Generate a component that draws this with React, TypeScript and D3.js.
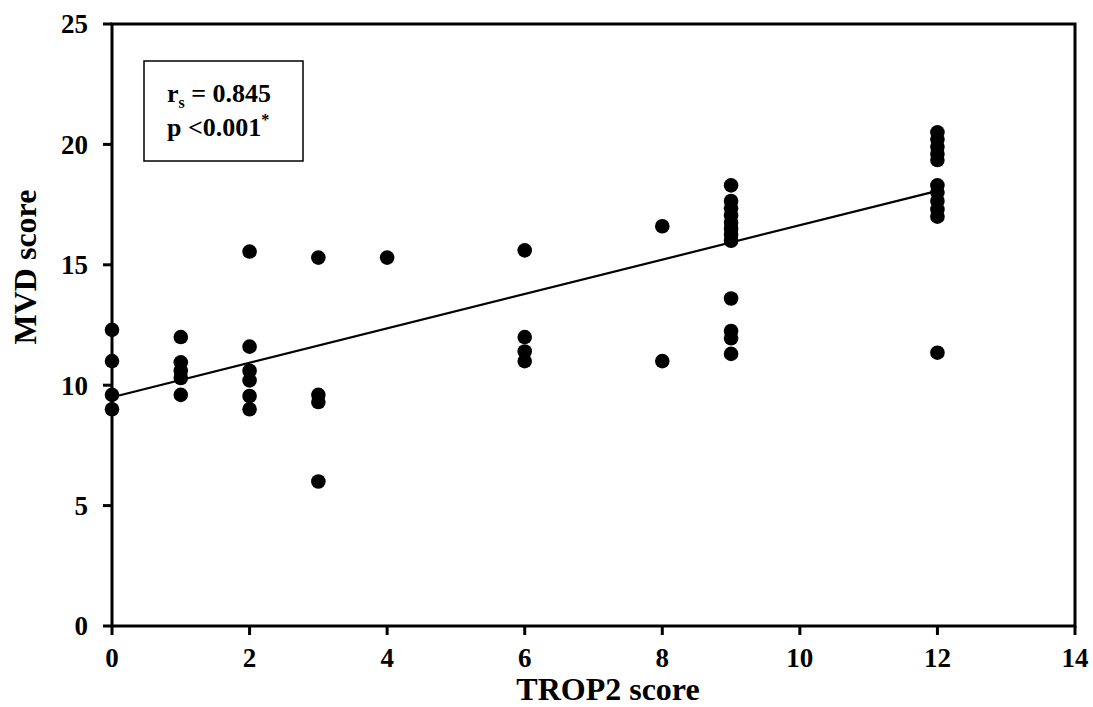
import React from "react";
import * as d3 from "d3";

const trop2Scores = [
  0, 0, 0, 0,
  1, 1, 1, 1, 1,
  2, 2, 2, 2, 2, 2,
  3, 3, 3, 3,
  4,
  6, 6, 6, 6,
  8, 8,
  9, 9, 9, 9, 9, 9, 9, 9, 9, 9, 9, 9,
  12, 12, 12, 12, 12, 12, 12, 12, 12, 12, 12,
];
const mvdScores = [
  12.3, 11.0, 9.6, 9.0,
  12.0, 10.95, 10.6, 10.3, 9.6,
  15.55, 11.6, 10.6, 10.2, 9.55, 9.0,
  15.3, 9.6, 9.3, 6.0,
  15.3,
  15.6, 12.0, 11.4, 11.0,
  16.6, 11.0,
  18.3, 17.65, 17.35, 17.05, 16.75, 16.5, 16.25, 16.0, 13.6, 12.25, 11.95, 11.3,
  20.5, 20.2, 19.9, 19.6, 19.35, 18.3, 18.0, 17.65, 17.3, 17.0, 11.35,
];
const xTicks = [0, 2, 4, 6, 8, 10, 12, 14];
const yTicks = [0, 5, 10, 15, 20, 25];
const fitLine = [
  { x: 0, y: 9.5 },
  { x: 12, y: 18.07 },
];

const FONT = "'Liberation Serif', 'Times New Roman', serif";

export default function App() {
  const W = 1093;
  const H = 707;
  const x = d3.scaleLinear().domain([0, 14]).range([112, 1075]);
  const y = d3.scaleLinear().domain([0, 25]).range([626, 24]);
  const line = d3
    .line<{ x: number; y: number }>()
    .x((d) => x(d.x))
    .y((d) => y(d.y));

  return (
    <svg
      width={W}
      height={H}
      style={{ position: "absolute", left: 0, top: 0, background: "#fff" }}
      fontFamily={FONT}
      fontWeight="bold"
    >
      <rect x={0} y={0} width={W} height={H} fill="#fff" />
      {/* frame */}
      <rect
        x={x(0)}
        y={y(25)}
        width={x(14) - x(0)}
        height={y(0) - y(25)}
        fill="none"
        stroke="#000"
        strokeWidth={3}
      />
      {/* y ticks */}
      {yTicks.map((t) => (
        <g key={"y" + t}>
          <line x1={x(0) - 9} x2={x(0)} y1={y(t)} y2={y(t)} stroke="#000" strokeWidth={3} />
          <text x={88} y={y(t)} dy="0.35em" textAnchor="end" fontSize={27}>
            {t}
          </text>
        </g>
      ))}
      {/* x ticks */}
      {xTicks.map((t) => (
        <g key={"x" + t}>
          <line x1={x(t)} x2={x(t)} y1={y(0)} y2={y(0) + 9} stroke="#000" strokeWidth={3} />
          <text x={x(t)} y={667} textAnchor="middle" fontSize={27}>
            {t}
          </text>
        </g>
      ))}
      {/* axis labels */}
      <text x={608} y={700} textAnchor="middle" fontSize={32}>
        TROP2 score
      </text>
      <text
        transform={`translate(36, 267) rotate(-90)`}
        textAnchor="middle"
        fontSize={32}
      >
        MVD score
      </text>
      {/* fit line */}
      <path d={line(fitLine) || ""} fill="none" stroke="#000" strokeWidth={2.2} />
      {/* points */}
      {trop2Scores.map((t, i) => (
        <circle key={i} cx={x(t)} cy={y(mvdScores[i])} r={7.3} fill="#000" />
      ))}
      {/* annotation box */}
      <rect x={144} y={61} width={159} height={100} fill="#fff" stroke="#000" strokeWidth={1.5} />
      <text x={167} y={102} fontSize={26}>
        r
        <tspan fontSize={16} dy={6}>s</tspan>
        <tspan dy={-6}> = 0.845</tspan>
      </text>
      <text x={167} y={136} fontSize={26}>
        p {"<"}0.001
        <tspan fontSize={16} dy={-11}>*</tspan>
      </text>
    </svg>
  );
}
